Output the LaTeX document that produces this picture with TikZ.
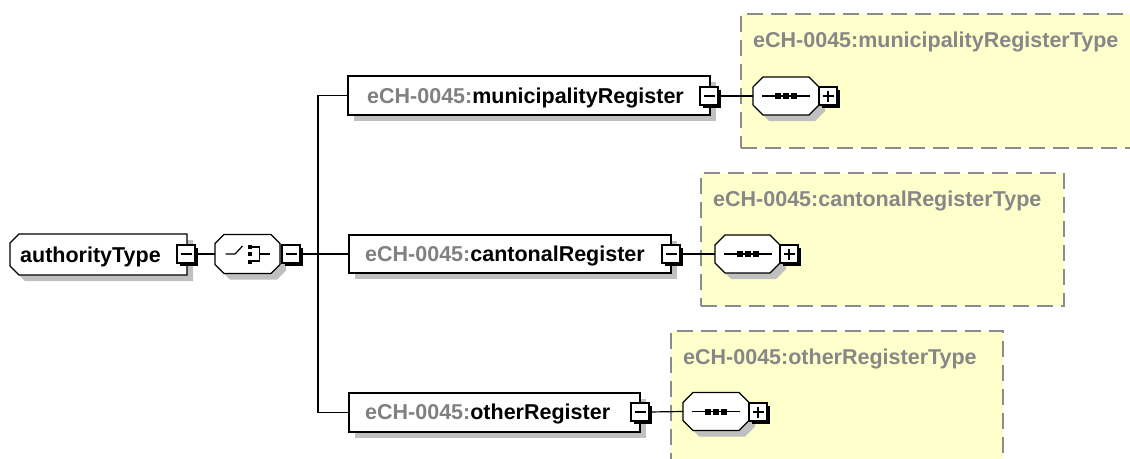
\documentclass[tikz,border=0pt]{standalone}
\usepackage{fontspec}
\setmainfont{Liberation Sans}
\usetikzlibrary{shadows}
\definecolor{shgray}{RGB}{192,192,192}
\definecolor{pfx}{RGB}{128,128,128}
\definecolor{ttl}{RGB}{135,135,135}
\definecolor{typefill}{RGB}{255,255,204}
\definecolor{dashgray}{RGB}{140,140,140}
% octagon path round a node: name, left chamfer, right chamfer
\newcommand\octpath[3]{([xshift=#2]#1.north west) -- ([xshift=-#3]#1.north east) -- ([yshift=-#3]#1.north east) -- ([yshift=#3]#1.south east) -- ([xshift=-#3]#1.south east) -- ([xshift=#2]#1.south west) -- ([yshift=#2]#1.south west) -- ([yshift=-#2]#1.north west) -- cycle}
\newcommand\octnode[3]{%
  \fill[shgray, transform canvas={xshift=6pt,yshift=-6pt}] \octpath{#1}{#2}{#3};
  \draw[line width=1.3pt, fill=white] \octpath{#1}{#2}{#3};}
\begin{document}
\begin{tikzpicture}[x=1pt,y=-1pt,
  conn/.style={line width=1.2pt},
  elem/.style={draw, line width=1.3pt, fill=white, rectangle, inner sep=0pt, outer sep=0pt, anchor=north west,
    drop shadow={shadow xshift=6pt,shadow yshift=-6pt,fill=shgray,opacity=1}},
  geom/.style={draw=none, rectangle, inner sep=0pt, outer sep=0pt, anchor=north west},
  pmbox/.style={draw, line width=1.1pt, fill=white, inner sep=0pt, outer sep=0pt, minimum size=18pt, anchor=north west,
    drop shadow={shadow xshift=2.5pt, shadow yshift=-2.5pt, fill=black, opacity=1}},
  typebox/.style={draw=dashgray, line width=1.6pt, dash pattern=on 16pt off 8pt, fill=typefill, inner sep=0pt, anchor=north west},
  lbl/.style={font=\fontsize{21.5}{24}\selectfont\bfseries, inner sep=0pt, anchor=base west},
  ttlstyle/.style={lbl, text=ttl},
  icon/.style={line width=1.2pt},
]
\useasboundingbox (0,0) rectangle (1130,458);
\clip (0,0) rectangle (1130,458);

% type boxes
\node[typebox, minimum width=400, minimum height=134] (muniT) at (740,13) {};
\node[ttlstyle] (muniTL) at (753,47) {eCH-0045:municipalityRegisterType};
\node[typebox, minimum width=363, minimum height=133] (cantT) at (700,172) {};
\node[ttlstyle] (cantTL) at (713,206) {eCH-0045:cantonalRegisterType};
\node[typebox, minimum width=332, minimum height=150] (otherT) at (670,330) {};
\node[ttlstyle] (otherTL) at (683,364) {eCH-0045:otherRegisterType};

% authorityType
\node[geom, minimum width=177, minimum height=41] (auth) at (10,234) {};
\octnode{auth}{9pt}{0pt}
\node[lbl] (authL) at (20,262) {authorityType};
\node[pmbox] (authM) at (177,245) {};
\draw[icon] ([xshift=3.5pt]authM.west) -- ([xshift=-3.5pt]authM.east);

% choice
\node[geom, minimum width=65, minimum height=39] (choice) at (215,234.5) {};
\octnode{choice}{9pt}{9pt}
\begin{scope}[shift={(choice.center)}]
  \draw[icon] (-22,0) -- (-12.5,0) -- (-5,-8);
  \fill (0,-9.5) rectangle (4,-5.5);
  \fill (0,-2) rectangle (4,2);
  \fill (0,5.5) rectangle (4,9.5);
  \draw[icon] (4,-7) -- (12,-7) -- (12,7) -- (4,7);
  \draw[icon] (12,0) -- (22,0);
\end{scope}
\node[pmbox] (choiceM) at (282,245) {};
\draw[icon] ([xshift=3.5pt]choiceM.west) -- ([xshift=-3.5pt]choiceM.east);

% municipalityRegister
\node[elem, minimum width=362, minimum height=39] (muni) at (348,76) {};
\node[lbl] (muniL) at (367,103) {\textcolor{pfx}{eCH-0045:}municipalityRegister};
\node[pmbox] (muniM) at (700,87) {};
\draw[icon] ([xshift=3.5pt]muniM.west) -- ([xshift=-3.5pt]muniM.east);
\node[geom, minimum width=66, minimum height=38] (muniS) at (753,77) {};
\octnode{muniS}{10pt}{10pt}
\node[pmbox] (muniP) at (819,87) {};
\draw[icon] ([xshift=3.5pt]muniP.west) -- ([xshift=-3.5pt]muniP.east);
\draw[icon] ([yshift=-3.5pt]muniP.north) -- ([yshift=3.5pt]muniP.south);

% cantonalRegister
\node[elem, minimum width=322, minimum height=38] (cant) at (349,235) {};
\node[lbl] (cantL) at (365,261) {\textcolor{pfx}{eCH-0045:}cantonalRegister};
\node[pmbox] (cantM) at (662,245) {};
\draw[icon] ([xshift=3.5pt]cantM.west) -- ([xshift=-3.5pt]cantM.east);
\node[geom, minimum width=65, minimum height=38] (cantS) at (715,235) {};
\octnode{cantS}{10pt}{10pt}
\node[pmbox] (cantP) at (780,245) {};
\draw[icon] ([xshift=3.5pt]cantP.west) -- ([xshift=-3.5pt]cantP.east);
\draw[icon] ([yshift=-3.5pt]cantP.north) -- ([yshift=3.5pt]cantP.south);

% otherRegister
\node[elem, minimum width=291, minimum height=39] (other) at (349,393) {};
\node[lbl] (otherL) at (365,419) {\textcolor{pfx}{eCH-0045:}otherRegister};
\node[pmbox] (otherM) at (631,403) {};
\draw[icon] ([xshift=3.5pt]otherM.west) -- ([xshift=-3.5pt]otherM.east);
\node[geom, minimum width=66, minimum height=38] (otherS) at (683,392.5) {};
\octnode{otherS}{10pt}{10pt}
\node[pmbox] (otherP) at (749,403) {};
\draw[icon] ([xshift=3.5pt]otherP.west) -- ([xshift=-3.5pt]otherP.east);
\draw[icon] ([yshift=-3.5pt]otherP.north) -- ([yshift=3.5pt]otherP.south);

% sequence icons
\foreach \s in {muniS,cantS,otherS}{
  \begin{scope}[shift={(\s.center)}]
    \draw[icon] (-24,0) -- (24,0);
    \fill (-11,-3) rectangle (-5,3);
    \fill (-3,-3) rectangle (3,3);
    \fill (5,-3) rectangle (11,3);
  \end{scope}
}

% connectors
\coordinate (bus) at (318,254);
\draw[conn] (authM.east) -- (choice.west);
\draw[conn] (choiceM.east) -- (cant.west);
\draw[conn] (muni.west) -| (bus) |- (other.west);
\draw[conn] (muniM.east) -- (muniS.west);
\draw[conn] (cantM.east) -- (cantS.west);
\draw[conn] (otherM.east) -- (otherS.west);
\end{tikzpicture}
\end{document}
